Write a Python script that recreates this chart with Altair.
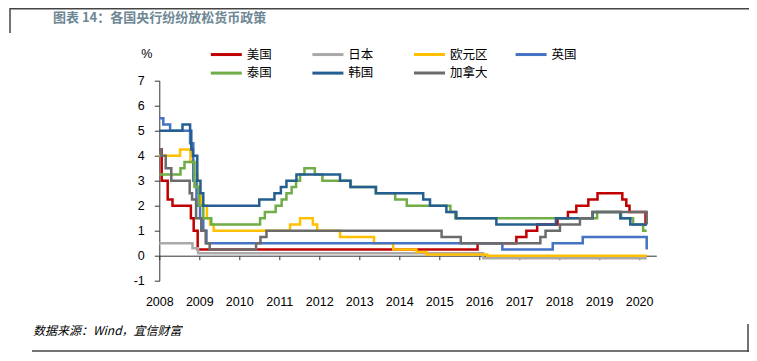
import altair as alt
import pandas as pd

countries = ["美国", "日本", "欧元区", "英国", "泰国", "韩国", "加拿大"]
colors = ["#C00000", "#A9A9A9", "#FFC000", "#4472C4", "#70AD47", "#255E91", "#6B6B6B"]

us_t = [2008.0, 2008.06, 2008.21, 2008.33, 2008.79, 2008.86, 2008.96, 2015.96, 2016.93,
        2017.18, 2017.45, 2017.96, 2018.22, 2018.43, 2018.73, 2018.96, 2019.58, 2019.68,
        2019.76, 2020.16, 2020.19]
us_v = [4.25, 3.0, 2.25, 2.0, 1.5, 1.0, 0.25, 0.5, 0.75,
        1.0, 1.25, 1.5, 1.75, 2.0, 2.25, 2.5, 2.25, 2.0,
        1.75, 1.25, 1.25]

jp_t = [2008.0, 2008.83, 2008.97, 2016.1, 2020.19]
jp_v = [0.5, 0.3, 0.1, -0.1, -0.1]

eu_t = [2008.0, 2008.52, 2008.78, 2008.87, 2008.95, 2009.05, 2009.19, 2009.27, 2009.36,
        2011.27, 2011.52, 2011.84, 2011.95, 2012.52, 2013.37, 2013.85, 2014.43, 2014.68,
        2016.2, 2020.19]
eu_v = [4.0, 4.25, 3.75, 3.25, 2.5, 2.0, 1.5, 1.25, 1.0,
        1.25, 1.5, 1.25, 1.0, 0.75, 0.5, 0.25, 0.15, 0.05,
        0.0, 0.0]

uk_t = [2008.0, 2008.1, 2008.27, 2008.77, 2008.85, 2008.93, 2009.02, 2009.1, 2009.18,
        2016.58, 2017.84, 2018.59, 2020.19]
uk_v = [5.5, 5.25, 5.0, 4.5, 3.0, 2.0, 1.5, 1.0, 0.5,
        0.25, 0.5, 0.75, 0.25]

th_t = [2008.0, 2008.53, 2008.63, 2008.88, 2009.0, 2009.1, 2009.3, 2010.52, 2010.64,
        2010.91, 2011.06, 2011.18, 2011.31, 2011.42, 2011.52, 2011.63, 2011.89, 2012.08,
        2012.79, 2013.41, 2013.9, 2014.19, 2015.28, 2015.4, 2018.95, 2019.55, 2019.85,
        2020.1, 2020.19]
th_v = [3.25, 3.5, 3.75, 2.75, 2.0, 1.5, 1.25, 1.5, 1.75,
        2.0, 2.25, 2.5, 2.75, 3.0, 3.25, 3.5, 3.25, 3.0,
        2.75, 2.5, 2.25, 2.0, 1.75, 1.5, 1.75, 1.5, 1.25,
        1.0, 1.0]

kr_t = [2008.0, 2008.58, 2008.77, 2008.8, 2008.84, 2008.95, 2009.03, 2009.1, 2010.5,
        2010.88, 2011.04, 2011.18, 2011.43, 2012.52, 2012.78, 2013.42, 2014.6, 2014.77,
        2015.18, 2015.43, 2016.43, 2017.92, 2018.84, 2019.53, 2019.78, 2020.19]
kr_v = [5.0, 5.25, 5.0, 4.25, 4.0, 3.0, 2.5, 2.0, 2.25,
        2.5, 2.75, 3.0, 3.25, 3.0, 2.75, 2.5, 2.25, 2.0,
        1.75, 1.5, 1.25, 1.5, 1.75, 1.5, 1.25, 1.25]

ca_t = [2008.0, 2008.05, 2008.16, 2008.3, 2008.76, 2008.82, 2008.92, 2009.05, 2009.16,
        2009.26, 2010.42, 2010.53, 2010.68, 2015.06, 2015.54, 2017.53, 2017.66, 2018.02,
        2018.52, 2018.83, 2020.19]
ca_v = [4.25, 4.0, 3.5, 3.0, 2.5, 2.25, 1.5, 1.0, 0.5,
        0.25, 0.5, 0.75, 1.0, 0.75, 0.5, 0.75, 1.0, 1.25,
        1.5, 1.75, 1.25]

years = list(range(2008, 2021))
y_ticks = list(range(-1, 8))

series = [(us_t, us_v), (jp_t, jp_v), (eu_t, eu_v), (uk_t, uk_v),
          (th_t, th_v), (kr_t, kr_v), (ca_t, ca_v)]
rows = []
for name, (ts, vs) in zip(countries, series):
    for t, v in zip(ts, vs):
        rows.append({"country": name, "t": t, "v": v})
df = pd.DataFrame(rows)

W, H = 497, 200
PL, PT = 151.3, 72.7
TOTW, TOTH = 741, 345

lines = alt.Chart(df).mark_line(interpolate="step-after", strokeWidth=2.5).encode(
    x=alt.X("t:Q",
            scale=alt.Scale(domain=[2008, 2020.43], nice=False, zero=False),
            axis=alt.Axis(values=years, labelExpr="datum.value", title=None,
                          offset=-25, tickSize=4, labelPadding=36, grid=False,
                          domainColor="#333333", tickColor="#333333",
                          labelFont="Liberation Sans", labelFontSize=12.5,
                          labelColor="#000000", labelFlush=False, labelOverlap=False)),
    y=alt.Y("v:Q",
            scale=alt.Scale(domain=[-1, 7], nice=False, zero=False),
            axis=alt.Axis(values=y_ticks, labelExpr="datum.value", title=None,
                          tickSize=5, labelPadding=10, grid=False,
                          domainColor="#333333", tickColor="#333333",
                          labelFont="Liberation Sans", labelFontSize=12.5,
                          labelColor="#000000")),
    color=alt.Color("country:N",
                    scale=alt.Scale(domain=countries, range=colors),
                    legend=alt.Legend(title=None, orient="none", legendX=60, legendY=-33.4,
                                      direction="horizontal",
                                      columns=4, gridAlign="all", columnPadding=21.6,
                                      rowPadding=4.8, symbolType="M-3,0H3", symbolSize=106.8,
                                      symbolStrokeWidth=3, labelOffset=13.4,
                                      labelFont="Noto Sans CJK SC", labelFontSize=12.5,
                                      labelColor="#000000")),
)

one = pd.DataFrame({"a": [0]})

title_txt = alt.Chart(one).mark_text(
    text="图表 14：各国央行纷纷放松货币政策", align="left", baseline="middle",
    font="Noto Sans CJK SC", fontSize=13, fontWeight="bold", color="#6E8794"
).encode(x=alt.value(53 - 159.3), y=alt.value(18 - 80.7))

src_txt = alt.Chart(one).mark_text(
    text="数据来源：Wind，宜信财富", align="left", baseline="middle",
    font="Noto Sans CJK SC", fontSize=12, fontStyle="italic", color="#000000"
).encode(x=alt.value(33 - 159.3), y=alt.value(331 - 80.7))

pct_txt = alt.Chart(one).mark_text(
    text="%", align="center", baseline="middle",
    font="Liberation Sans", fontSize=12.5, color="#000000"
).encode(x=alt.value(146.7 - 159.3), y=alt.value(54 - 80.7))

ox, oy = 159.3, 80.7
top_line = alt.Chart(one).mark_rule(color="#444444", strokeWidth=1.5).encode(
    x=alt.value(10 - ox), x2=alt.value(749 - ox), y=alt.value(8.8 - oy))
left_line = alt.Chart(one).mark_rule(color="#444444", strokeWidth=1.5).encode(
    x=alt.value(10 - ox), y=alt.value(8 - oy), y2=alt.value(33 - oy))
bottom_line = alt.Chart(one).mark_rule(color="#444444", strokeWidth=1.5).encode(
    x=alt.value(32 - ox), x2=alt.value(749 - ox), y=alt.value(351 - oy))
right_line = alt.Chart(one).mark_rule(color="#444444", strokeWidth=1.5).encode(
    x=alt.value(748 - ox), y=alt.value(324 - oy), y2=alt.value(351.7 - oy))

chart = alt.layer(
    lines, title_txt, src_txt, pct_txt, top_line, left_line, bottom_line, right_line
).properties(
    width=W, height=H,
    autosize=alt.AutoSizeParams(type="none"),
    padding={"left": PL, "top": PT, "right": TOTW - PL - W, "bottom": TOTH - PT - H},
    background="#FFFFFF",
).configure_view(stroke=None)

chart.save("out.html", embed_options={"renderer": "svg", "actions": False})
